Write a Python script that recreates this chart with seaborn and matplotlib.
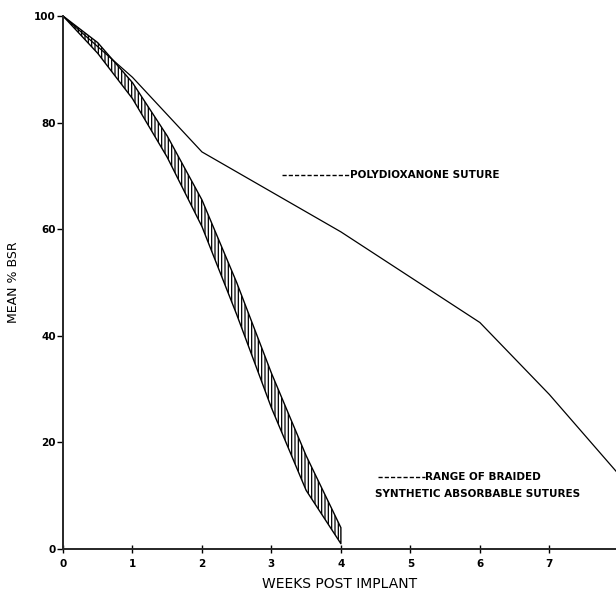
import numpy as np
import pandas as pd
import matplotlib
matplotlib.use("Agg")
import matplotlib.pyplot as plt
import seaborn as sns

# Polydioxanone suture, mean % BSR by week
pds_weeks = [0, 1, 2, 3, 4, 5, 6, 7, 8]
pds_bsr = [100, 88.5, 74.5, 67, 59.5, 51, 42.5, 29, 14]

# Range of braided synthetic absorbable sutures (upper / lower edge)
braid_weeks = [0, 0.5, 1, 1.5, 2, 2.5, 3, 3.5, 4]
braid_upper = [100, 95, 87.5, 77.5, 65.5, 50, 33, 17.5, 4]
braid_lower = [100, 93, 84.5, 73.5, 60.5, 44, 26.5, 11, 1]

x_ticks = [0, 1, 2, 3, 4, 5, 6, 7]
y_ticks = [0, 20, 40, 60, 80, 100]

sns.set_style("ticks")
plt.rcParams["font.family"] = ["DejaVu Sans"]
plt.rcParams["hatch.linewidth"] = 0.9
plt.rcParams["text.color"] = "black"
plt.rcParams["axes.labelcolor"] = "black"
plt.rcParams["xtick.color"] = "black"
plt.rcParams["ytick.color"] = "black"

pds_df = pd.DataFrame({"week": pds_weeks, "bsr": pds_bsr})

fig = plt.figure(figsize=(6.16, 5.98), dpi=100)
ax = fig.add_axes([63 / 616, 49 / 598, 553 / 616, 533 / 598])

sns.lineplot(data=pds_df, x="week", y="bsr", color="black", linewidth=0.9, ax=ax)

ax.fill_between(braid_weeks, braid_lower, braid_upper, facecolor="none",
                edgecolor="black", hatch="|||||", linewidth=1.0)

# annotations
ax.plot([3.15, 4.13], [70.2, 70.2], color="black", lw=1, ls=(0, (3, 1.5)))
ax.text(4.13, 70.2, "POLYDIOXANONE SUTURE", fontsize=7.5, va="center",
        ha="left", fontweight="bold")
ax.plot([4.53, 5.21], [13.5, 13.5], color="black", lw=1, ls=(0, (3, 1.5)))
ax.text(5.21, 13.5, "RANGE OF BRAIDED", fontsize=7.5, va="center",
        ha="left", fontweight="bold")
ax.text(4.49, 10.3, "SYNTHETIC ABSORBABLE SUTURES", fontsize=7.5,
        va="center", ha="left", fontweight="bold")

ax.set_xlim(0, 7.96)
ax.set_ylim(0, 100)
ax.set_xticks(x_ticks)
ax.set_yticks(y_ticks)
ax.tick_params(axis="x", direction="inout", length=6, width=1, labelsize=7.5, pad=4)
ax.tick_params(axis="y", direction="out", length=4, width=1, labelsize=7.5, pad=1)
for lab in ax.get_xticklabels() + ax.get_yticklabels():
    lab.set_fontweight("bold")
ax.set_xlabel("WEEKS POST IMPLANT", fontsize=10, labelpad=6)
ax.set_ylabel("MEAN % BSR", fontsize=9, labelpad=10)
sns.despine(ax=ax)
for sp in ["left", "bottom"]:
    ax.spines[sp].set_linewidth(1.4)

fig.savefig("out.png", dpi=100)
